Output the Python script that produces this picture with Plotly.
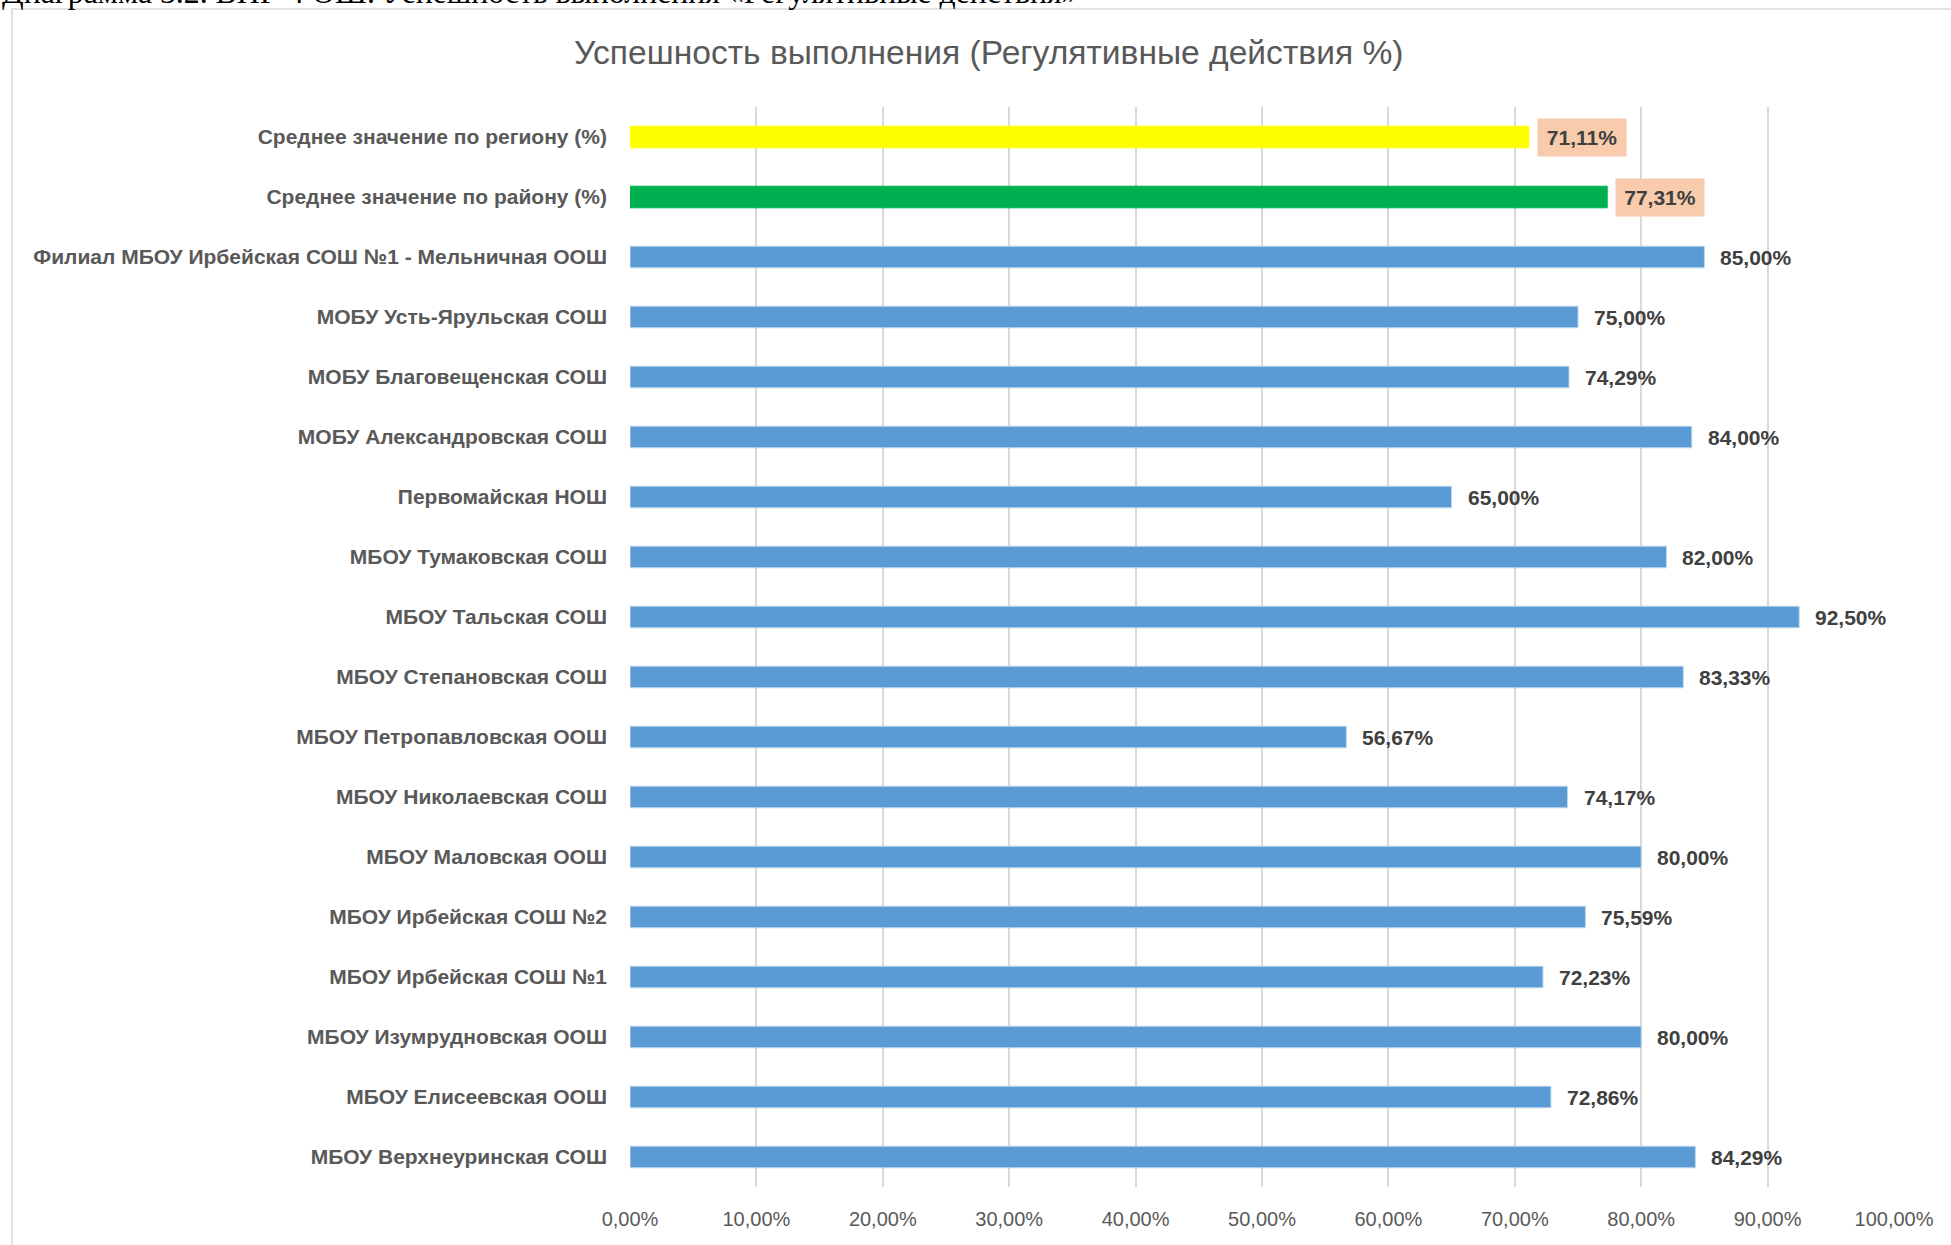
import plotly.graph_objects as go

categories = [
    "Среднее значение по региону (%)",
    "Среднее значение по району (%)",
    "Филиал МБОУ Ирбейская СОШ №1 - Мельничная ООШ",
    "МОБУ Усть-Ярульская СОШ",
    "МОБУ Благовещенская СОШ",
    "МОБУ Александровская СОШ",
    "Первомайская НОШ",
    "МБОУ Тумаковская СОШ",
    "МБОУ Тальская СОШ",
    "МБОУ Степановская СОШ",
    "МБОУ Петропавловская ООШ",
    "МБОУ Николаевская СОШ",
    "МБОУ Маловская ООШ",
    "МБОУ Ирбейская СОШ №2",
    "МБОУ Ирбейская СОШ №1",
    "МБОУ Изумрудновская ООШ",
    "МБОУ Елисеевская ООШ",
    "МБОУ Верхнеуринская СОШ",
]
values = [71.11, 77.31, 85.00, 75.00, 74.29, 84.00, 65.00, 82.00, 92.50,
          83.33, 56.67, 74.17, 80.00, 75.59, 72.23, 80.00, 72.86, 84.29]
bar_colors = ["#FFFF00", "#00B050"] + ["#5B9BD5"] * 16
line_colors = ["#FFFF00", "#00B050"] + ["#BDD7EE"] * 16
boxed = [True, True] + [False] * 16
tick_vals = [0, 10, 20, 30, 40, 50, 60, 70, 80, 90, 100]
tick_text = ["0,00%", "10,00%", "20,00%", "30,00%", "40,00%", "50,00%",
             "60,00%", "70,00%", "80,00%", "90,00%", "100,00%"]
title_text = "Успешность выполнения (Регулятивные действия %)"
caption_text = "Диаграмма 3.2. ВПР-4 ОШ. Успешность выполнения «Регулятивные действия»"

FONT = "Liberation Sans, Arial, sans-serif"

fig = go.Figure()
fig.add_trace(go.Bar(
    y=categories, x=values, orientation="h",
    marker=dict(color=bar_colors, line=dict(color=line_colors, width=1)),
    width=0.36, hoverinfo="skip",
))

annotations = []
for cat, v, b in zip(categories, values, boxed):
    txt = f"{v:.2f}".replace(".", ",") + "%"
    if b:
        annotations.append(dict(
            x=v, y=cat, xref="x", yref="y", text=f"<b>{txt}</b>",
            showarrow=False, xanchor="left", yanchor="middle", xshift=8,
            font=dict(family=FONT, size=21, color="#404040"),
            bgcolor="#F8CBAD", borderpad=7, width=74,
        ))
    else:
        annotations.append(dict(
            x=v, y=cat, xref="x", yref="y", text=f"<b>{txt}</b>",
            showarrow=False, xanchor="left", yanchor="middle", xshift=14,
            font=dict(family=FONT, size=21, color="#404040"),
        ))

annotations.append(dict(
    x=(988 - 630) / 1264, y=(1187 - 53) / 1080, xref="paper", yref="paper",
    text=title_text, showarrow=False, xanchor="center", yanchor="middle",
    font=dict(family=FONT, size=33.6, color="#595959"),
))
annotations.append(dict(
    x=(0 - 630) / 1264, y=(1187 - 12) / 1080, xref="paper", yref="paper",
    text=caption_text, showarrow=False, xanchor="left", yanchor="bottom",
    font=dict(family="Liberation Serif, Times New Roman, serif", size=31.8, color="#000000"),
))

fig.update_layout(
    width=1951, height=1245,
    margin=dict(l=630, r=57, t=107, b=58),
    paper_bgcolor="white", plot_bgcolor="white",
    showlegend=False,
    annotations=annotations,
    shapes=[dict(
        type="rect", xref="paper", yref="paper",
        x0=(12 - 630) / 1264, x1=1.2, y0=-0.3, y1=(1187 - 9) / 1080,
        line=dict(color="#D9D9D9", width=1.5), fillcolor="rgba(0,0,0,0)", layer="below",
    )],
    xaxis=dict(
        range=[0, 100], tickvals=tick_vals, ticktext=tick_text,
        showgrid=True, gridcolor="#D9D9D9", gridwidth=1.5,
        zeroline=False, showline=False, ticks="",
        ticklabelstandoff=18,
        tickfont=dict(family=FONT, size=20, color="#595959"),
        fixedrange=True,
    ),
    yaxis=dict(
        autorange="reversed", showgrid=False, zeroline=False, showline=False,
        ticks="", ticklabelstandoff=22,
        tickfont=dict(family=FONT, size=21, color="#595959", weight="bold"),
        fixedrange=True,
    ),
)

fig.write_html(
    "out.html",
    config={"displayModeBar": False},
    post_script="document.body.style.margin='0';document.body.style.overflow='hidden';",
)
